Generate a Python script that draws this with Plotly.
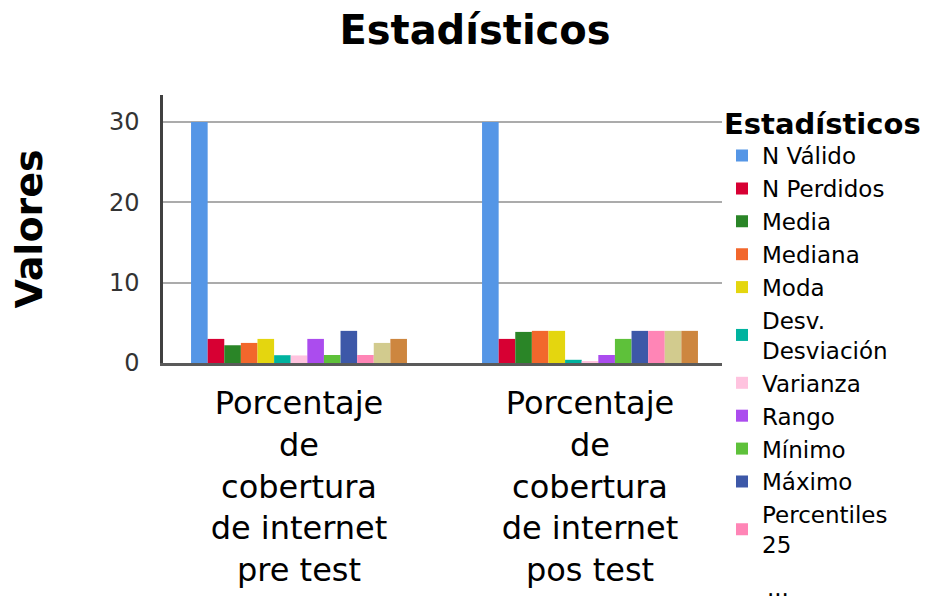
import plotly.graph_objects as go

categories = ["Porcentaje<br>de<br>cobertura<br>de internet<br>pre test",
              "Porcentaje<br>de<br>cobertura<br>de internet<br>pos test"]
stat_names = ["N Válido", "N Perdidos", "Media", "Mediana", "Moda",
              "Desv.<br>Desviación", "Varianza", "Rango", "Mínimo", "Máximo",
              "Percentiles<br>25", "Percentiles 50", "Percentiles 75"]
pre_test = [30, 3, 2.21, 2.5, 3, 0.97, 0.94, 3, 1, 4, 1, 2.5, 3]
pos_test = [30, 3, 3.87, 4, 4, 0.4, 0.16, 1, 3, 4, 4, 4, 4]
colors = ["#5596E6", "#D70033", "#2A8527", "#F2672C", "#E4D60F", "#00B39F",
          "#FFC3DF", "#AB4CEE", "#5EC13A", "#3D58A8", "#FF85B6", "#D2CB8E", "#CD863F"]
y_ticks = [0, 10, 20, 30]

fig = go.Figure()
for i, name in enumerate(stat_names):
    fig.add_trace(go.Bar(
        x=[0, 1], y=[pre_test[i], pos_test[i]], name=name,
        marker=dict(color=colors[i], line=dict(width=0)),
        showlegend=i < 11,
    ))

fig.update_layout(
    width=950, height=600,
    margin=dict(l=163, r=228, t=95, b=237),
    paper_bgcolor="white", plot_bgcolor="white",
    barmode="group", bargap=0.258, bargroupgap=0,
    title=dict(text="<b>Estadísticos</b>", x=0.5, xanchor="center",
               y=0.95, yref="container", yanchor="middle",
               font=dict(family="DejaVu Sans", size=40, color="black")),
    font=dict(family="DejaVu Sans", color="black"),
    legend=dict(
        x=1.0, xanchor="left", y=0.995, yanchor="top", maxheight=560,
        title=dict(text="<b>Estadísticos</b>", font=dict(family="DejaVu Sans", size=29)),
        font=dict(family="DejaVu Sans", size=23, color="black"),
        traceorder="normal", bgcolor="rgba(0,0,0,0)",
    ),
    xaxis=dict(
        range=[-0.4674, 1.4536], tickmode="array", tickvals=[0, 1], ticktext=categories,
        showgrid=False, zeroline=False, showline=True, linecolor="#5a5a5a", linewidth=3,
        ticks="", tickfont=dict(family="DejaVu Sans", size=32, color="black"),
        ticklabelstandoff=10,
    ),
    yaxis=dict(
        range=[0, 33.36], tickmode="array", tickvals=y_ticks,
        showgrid=True, gridcolor="#ababab", gridwidth=2,
        zeroline=False, showline=True, linecolor="#404040", linewidth=2.5,
        ticks="", tickfont=dict(family="DejaVu Sans", size=24, color="#333333"),
        ticklabelstandoff=16,
        title=dict(text="<b>Valores</b>", standoff=55,
                   font=dict(family="DejaVu Sans", size=38, color="black")),
    ),
)

fig.add_annotation(text="...", xref="paper", yref="paper", x=1.077, y=-0.84,
                   xanchor="left", yanchor="middle", showarrow=False,
                   font=dict(family="DejaVu Sans", size=23, color="black"))

fig.write_html("out.html", config={"displayModeBar": False},
               post_script="document.body.style.margin='0';")
